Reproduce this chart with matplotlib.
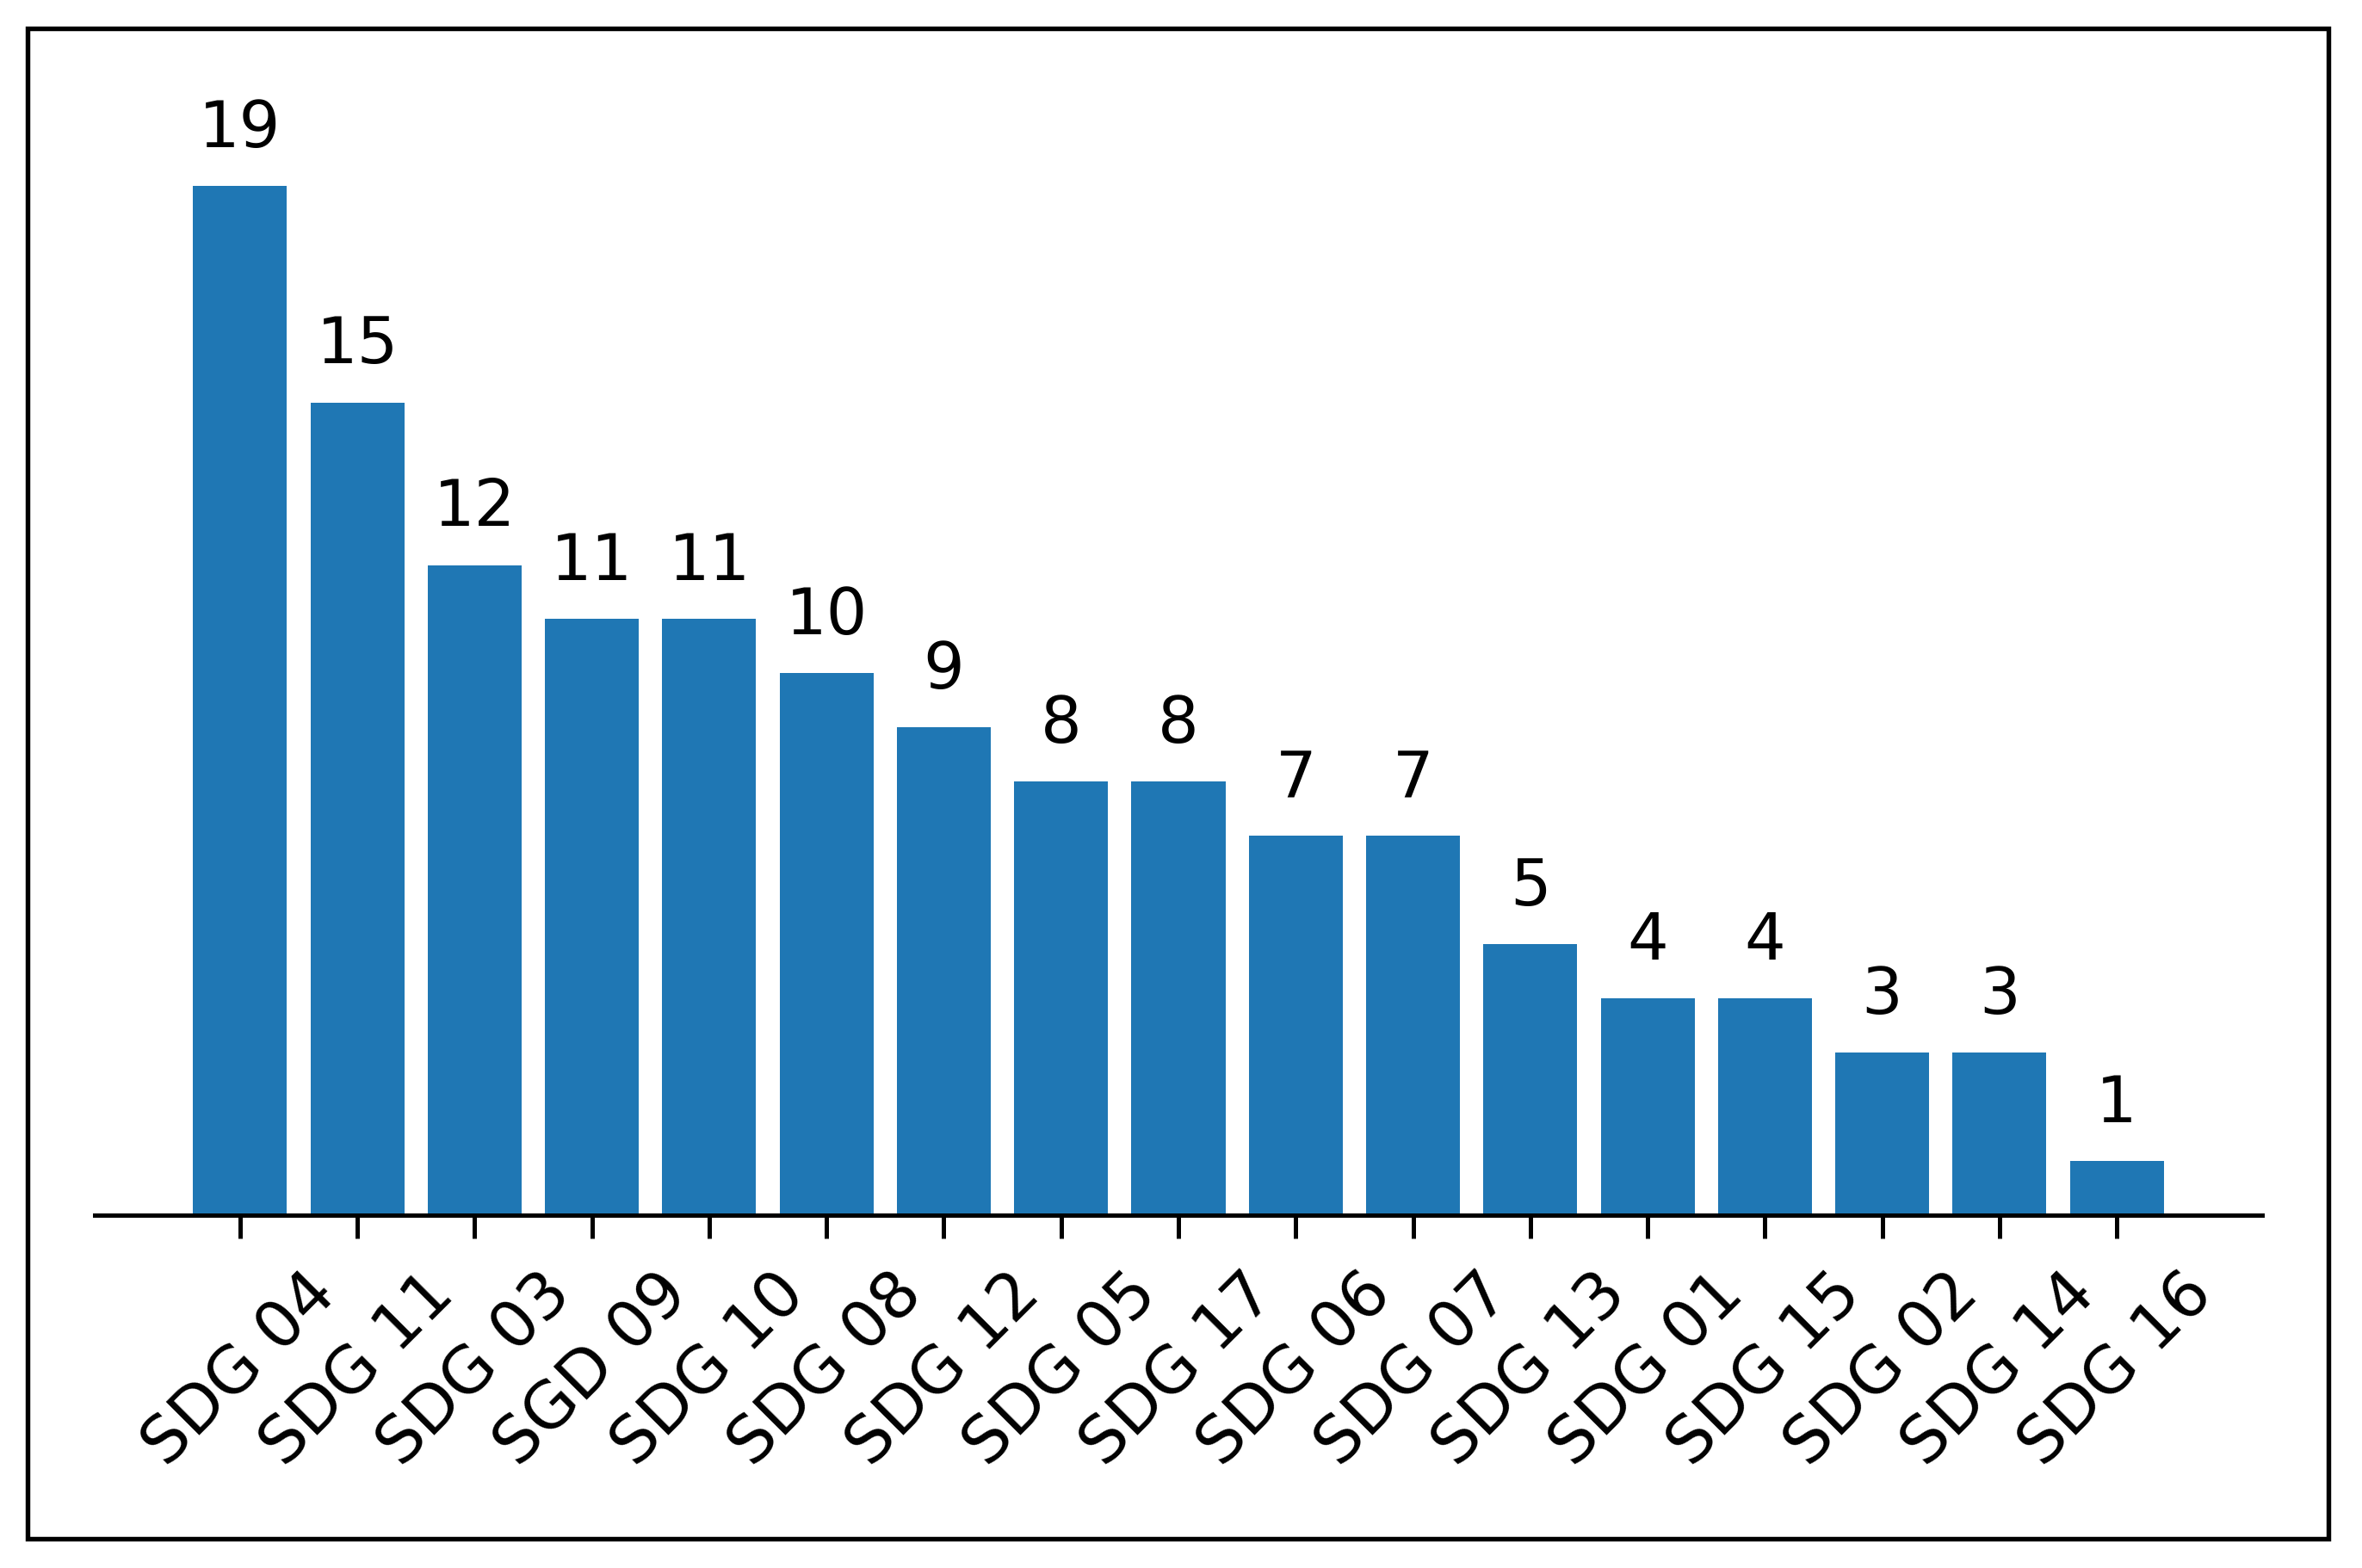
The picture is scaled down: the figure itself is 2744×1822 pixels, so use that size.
import matplotlib.pyplot as plt
from matplotlib.patches import Rectangle

# Dados
categorias = ['SDG 04', 'SDG 11', 'SDG 03', 'SGD 09', 'SDG 10', 'SDG 08', 'SDG 12',
              'SDG 05', 'SDG 17', 'SDG 06', 'SDG 07', 'SDG 13', 'SDG 01', 'SDG 15',
              'SDG 02', 'SDG 14', 'SDG 16']
contagens = [19, 15, 12, 11, 11, 10, 9, 8, 8, 7, 7, 5, 4, 4, 3, 3, 1]

W, H, DPI = 2744, 1822, 300

fig = plt.figure(figsize=(W / DPI, H / DPI), dpi=DPI)
ax = fig.add_axes([110 / W, 0.225, (2628 - 110) / W, 0.6894])

barras = ax.bar(categorias, contagens, color='#1f77b4')
ax.bar_label(barras, padding=7, fontsize=18)

for lado in ['top', 'right', 'left']:
    ax.spines[lado].set_visible(False)
ax.spines['bottom'].set_linewidth(1.2)
ax.set_yticks([])
ax.tick_params(axis='x', labelsize=18, length=6.5, width=1.2, pad=6.5, rotation=45)

# moldura em volta da figura
fig.patches.append(Rectangle((32 / W, 1 - 1788 / H), (2705 - 32) / W, (1788 - 33) / H,
                             transform=fig.transFigure, fill=False,
                             edgecolor='black', linewidth=1.3))

fig.savefig('out.png', dpi=DPI)
